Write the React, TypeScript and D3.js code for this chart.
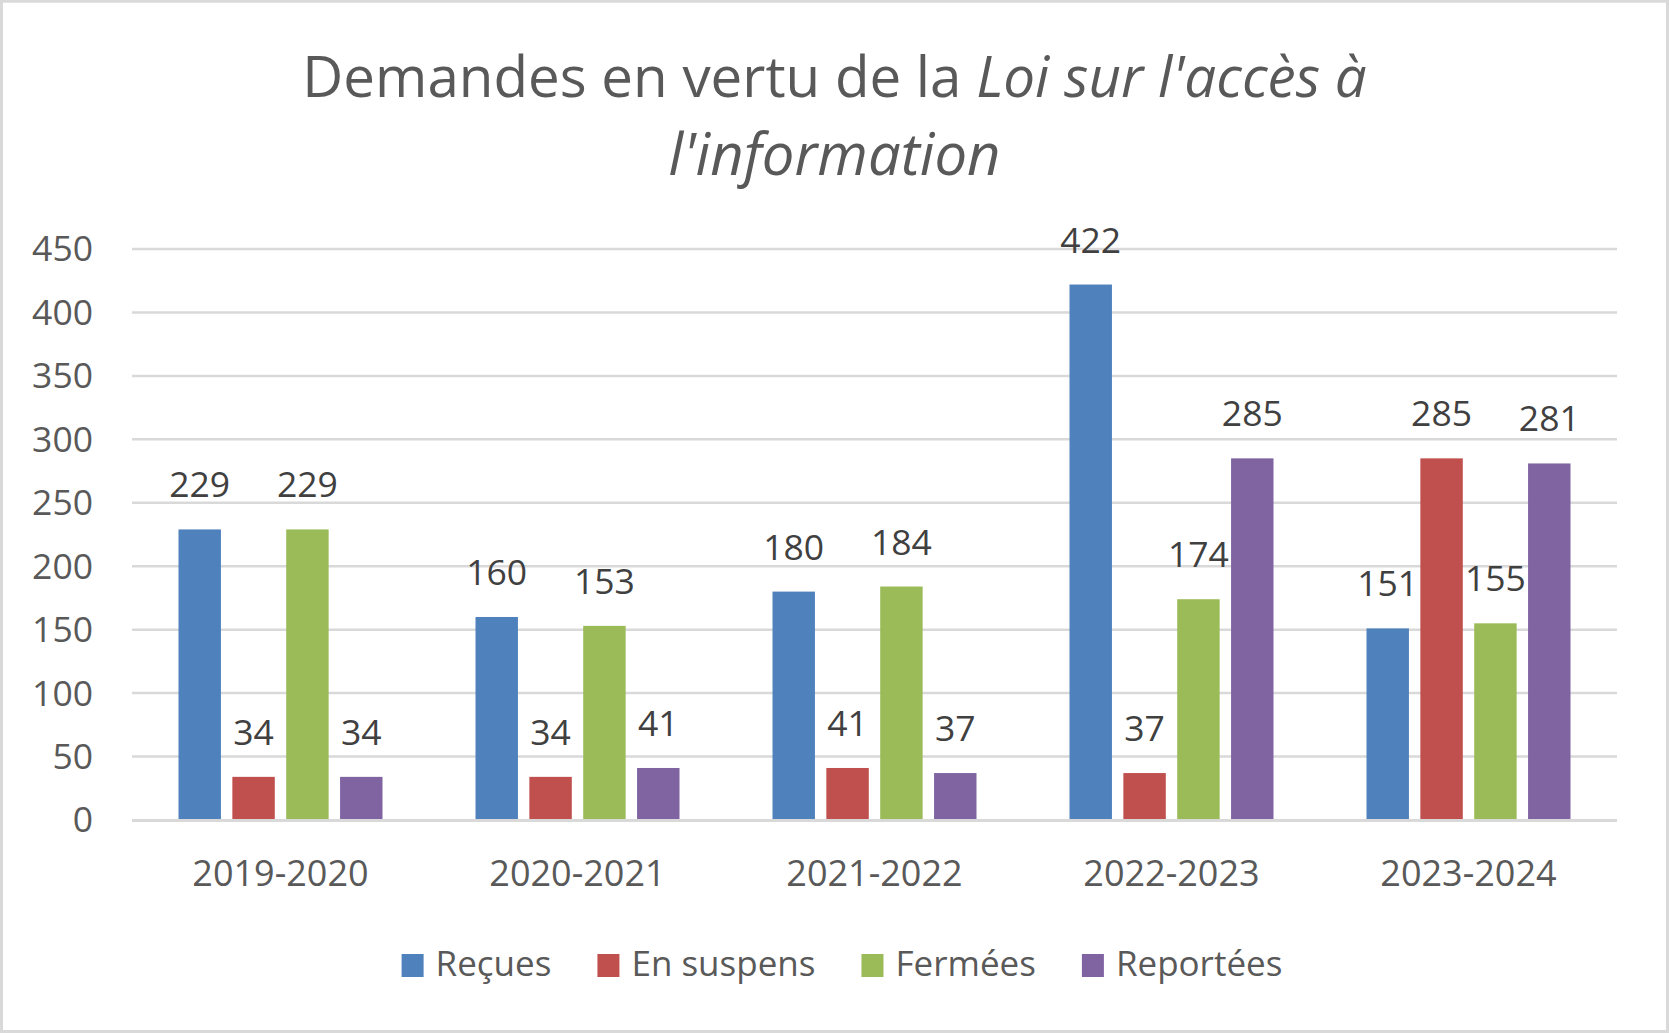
import React, { useEffect, useRef } from "react";
import * as d3 from "d3";

const categories = ["2019-2020", "2020-2021", "2021-2022", "2022-2023", "2023-2024"];
const seriesNames = ["Reçues", "En suspens", "Fermées", "Reportées"];
const recues = [229, 160, 180, 422, 151];
const enSuspens = [34, 34, 41, 37, 285];
const fermees = [229, 153, 184, 174, 155];
const reportees = [34, 41, 37, 285, 281];
const yTicks = [0, 50, 100, 150, 200, 250, 300, 350, 400, 450];
const seriesColors = ["#4F81BD", "#C0504D", "#9BBB59", "#8064A2"];

const W = 1669;
const H = 1033;
const FONT = "'Open Sans', 'Noto Sans', sans-serif";

export default function App() {
  const ref = useRef<SVGSVGElement | null>(null);

  useEffect(() => {
    document.body.style.margin = "0";
    const svg = d3.select(ref.current);
    svg.selectAll("*").remove();

    const seriesValues = [recues, enSuspens, fermees, reportees];
    const plot = { left: 132, right: 1617, top: 249, bottom: 820 };

    svg.append("rect").attr("x", 0).attr("y", 0).attr("width", W).attr("height", H).attr("fill", "#ffffff");
    svg
      .append("rect")
      .attr("x", 1.5)
      .attr("y", 1.2)
      .attr("width", W - 3)
      .attr("height", H - 2.7)
      .attr("fill", "none")
      .attr("stroke", "#d9d9d9")
      .attr("stroke-width", 3);

    const y = d3.scaleLinear().domain([0, 450]).range([plot.bottom, plot.top]);
    const x0 = d3.scaleBand<string>().domain(categories).range([plot.left, plot.right]).padding(0);
    const outer = 46.5;
    const x1 = d3
      .scaleBand<string>()
      .domain(seriesNames)
      .range([outer, x0.bandwidth() - outer])
      .paddingInner(0.212)
      .paddingOuter(0);

    // gridlines
    svg
      .append("g")
      .selectAll("line")
      .data(yTicks.filter((t) => t !== 0))
      .join("line")
      .attr("x1", plot.left)
      .attr("x2", plot.right)
      .attr("y1", (d) => y(d))
      .attr("y2", (d) => y(d))
      .attr("stroke", "#d9d9d9")
      .attr("stroke-width", 2.5);

    // y tick labels
    svg
      .append("g")
      .selectAll("text")
      .data(yTicks)
      .join("text")
      .attr("x", 93)
      .attr("y", (d) => y(d))
      .attr("dy", "0.35em")
      .attr("text-anchor", "end")
      .attr("font-family", FONT)
      .attr("font-size", 35.5)
      .attr("fill", "#595959")
      .text((d) => String(d));

    // bars
    const groups = svg
      .append("g")
      .selectAll("g")
      .data(categories)
      .join("g")
      .attr("transform", (d) => `translate(${x0(d)},0)`);

    groups.each(function (cat, ci) {
      const g = d3.select(this);
      const rows = seriesNames.map((s, si) => ({ s, si, v: seriesValues[si][ci] }));
      g.selectAll("rect")
        .data(rows)
        .join("rect")
        .attr("x", (d) => x1(d.s) as number)
        .attr("width", x1.bandwidth())
        .attr("y", (d) => y(d.v))
        .attr("height", (d) => y(0) - y(d.v))
        .attr("fill", (d) => seriesColors[d.si]);
      g.selectAll("text")
        .data(rows)
        .join("text")
        .attr("x", (d) => (x1(d.s) as number) + x1.bandwidth() / 2)
        .attr("y", (d) => y(d.v) - 32)
        .attr("text-anchor", "middle")
        .attr("font-family", FONT)
        .attr("font-size", 35.5)
        .attr("fill", "#404040")
        .text((d) => String(d.v));
    });

    // axis line
    svg
      .append("line")
      .attr("x1", plot.left)
      .attr("x2", plot.right)
      .attr("y1", y(0) + 0.5)
      .attr("y2", y(0) + 0.5)
      .attr("stroke", "#d9d9d9")
      .attr("stroke-width", 3);

    // x labels
    svg
      .append("g")
      .selectAll("text")
      .data(categories)
      .join("text")
      .attr("x", (d) => (x0(d) as number) + x0.bandwidth() / 2)
      .attr("y", 886)
      .attr("text-anchor", "middle")
      .attr("font-family", FONT)
      .attr("font-size", 36)
      .attr("fill", "#595959")
      .text((d) => d);

    // title
    const title = svg
      .append("g")
      .attr("font-family", FONT)
      .attr("fill", "#595959")
      .attr("text-anchor", "middle");
    const t1 = title.append("text").attr("x", W / 2).attr("y", 97).attr("font-size", 56.5);
    t1.append("tspan").text("Demandes en vertu de la ");
    t1.append("tspan").attr("font-style", "italic").text("Loi sur l'accès à");
    title
      .append("text")
      .attr("x", W / 2)
      .attr("y", 175)
      .attr("font-size", 58)
      .attr("font-style", "italic")
      .text("l'information");

    // legend
    const legend = svg.append("g");
    const sq = 22;
    const gapText = 12;
    const gapItem = 46;
    const items = seriesNames.map((name, i) => {
      const g = legend.append("g");
      g.append("rect")
        .attr("x", 0)
        .attr("y", 954)
        .attr("width", sq)
        .attr("height", 23)
        .attr("fill", seriesColors[i]);
      const t = g
        .append("text")
        .attr("x", sq + gapText)
        .attr("y", 976)
        .attr("font-family", FONT)
        .attr("font-size", 35)
        .attr("fill", "#595959")
        .text(name);
      const w = (t.node() as SVGTextElement).getComputedTextLength();
      return { g, w: sq + gapText + w };
    });
    const total = items.reduce((a, b) => a + b.w, 0) + gapItem * (items.length - 1);
    let cx = 842 - total / 2;
    items.forEach((it) => {
      it.g.attr("transform", `translate(${cx},0)`);
      cx += it.w + gapItem;
    });
  }, []);

  return <svg ref={ref} width={W} height={H} style={{ display: "block" }} />;
}
